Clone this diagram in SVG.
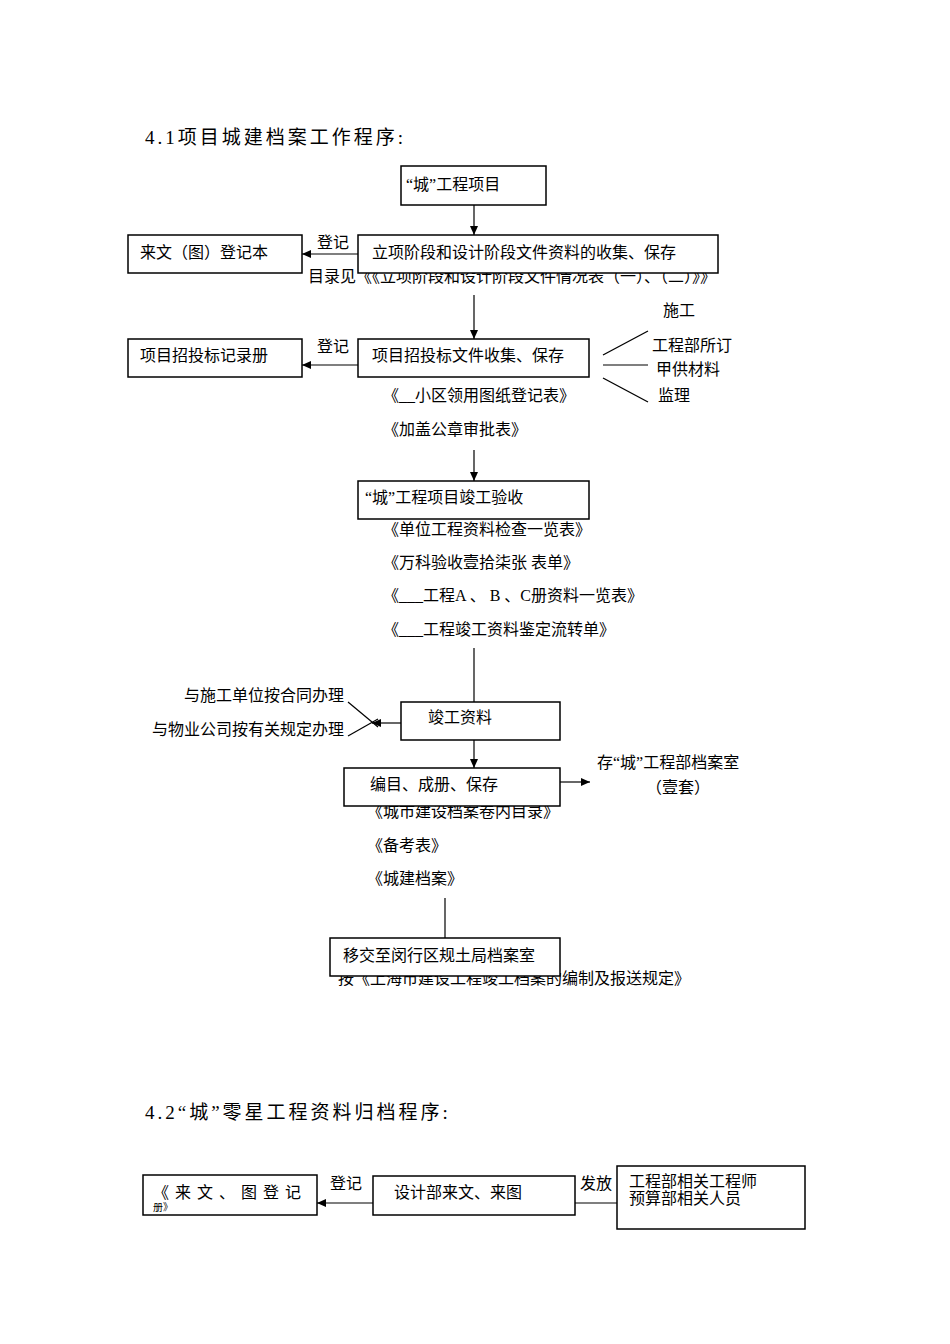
<svg xmlns="http://www.w3.org/2000/svg" width="950" height="1344" viewBox="0 0 950 1344">
<defs><marker id="ah" markerWidth="10" markerHeight="10" refX="9" refY="5" orient="auto" markerUnits="userSpaceOnUse"><path d="M0,1 L9,5 L0,9 Z" fill="#000"/></marker></defs>
<style>
text{font-family:"Liberation Serif","Noto Sans CJK SC",serif;font-size:16px;fill:#000}
.t{font-size:19px;letter-spacing:3px}
.b{fill:#fff;stroke:#000;stroke-width:1.5}
.c line{stroke:#000;stroke-width:1.2}
.a{marker-end:url(#ah)}
</style>
<rect width="950" height="1344" fill="#fff"/>
<text class="t" x="145" y="144">4.1项目城建档案工作程序:</text>
<text class="t" x="145" y="1119">4.2“城”零星工程资料归档程序:</text>
<text x="308" y="282">目录见《《立项阶段和设计阶段文件情况表（一）、（二）》》</text>
<text x="367" y="817">《城市建设档案卷内目录》</text>
<text x="338" y="984">按《上海市建设工程竣工档案的编制及报送规定》</text>
<g id="n1"><rect class="b" x="401" y="166" width="145" height="39"/><text x="406" y="190">“城”工程项目</text></g>
<g id="n2"><rect class="b" x="128" y="235" width="174" height="38"/><text x="140" y="258">来文（图）登记本</text></g>
<g id="n3"><rect class="b" x="358" y="235" width="360" height="38"/><text x="372" y="258">立项阶段和设计阶段文件资料的收集、保存</text></g>
<g id="n4"><rect class="b" x="128" y="339" width="174" height="38"/><text x="140" y="361">项目招投标记录册</text></g>
<g id="n5"><rect class="b" x="358" y="339" width="231" height="38"/><text x="372" y="361">项目招投标文件收集、保存</text></g>
<g id="n6"><rect class="b" x="358" y="481" width="231" height="38"/><text x="365" y="503">“城”工程项目竣工验收</text></g>
<g id="n7"><rect class="b" x="401" y="702" width="159" height="38"/><text x="428" y="723">竣工资料</text></g>
<g id="n8"><rect class="b" x="344" y="768" width="216" height="38"/><text x="370" y="790">编目、成册、保存</text></g>
<g id="n9"><rect class="b" x="330" y="938" width="230" height="38"/><text x="343" y="961">移交至闵行区规土局档案室</text></g>
<g id="n10"><rect class="b" x="143" y="1175" width="174" height="40"/><text x="153" y="1198" style="letter-spacing:6px">《来文、图登记</text><text x="153" y="1211" style="font-size:10px">册》</text></g>
<g id="n11"><rect class="b" x="373" y="1176" width="202" height="39"/><text x="394" y="1198">设计部来文、来图</text></g>
<g id="n12"><rect class="b" x="617" y="1166" width="188" height="63"/><text x="629" y="1187">工程部相关工程师</text><text x="629" y="1204">预算部相关人员</text></g>
<g id="labels">
<text x="317" y="248">登记</text>
<text x="317" y="352">登记</text>
<text x="663" y="316">施工</text>
<text x="652" y="351">工程部所订</text>
<text x="656" y="375">甲供材料</text>
<text x="658" y="401">监理</text>
<text x="383" y="401">《__小区领用图纸登记表》</text>
<text x="383" y="435">《加盖公章审批表》</text>
<text x="383" y="535">《单位工程资料检查一览表》</text>
<text x="383" y="568">《万科验收壹拾柒张  表单》</text>
<text x="383" y="601">《___工程A 、 B 、C册资料一览表》</text>
<text x="383" y="635">《___工程竣工资料鉴定流转单》</text>
<text x="344" y="701" text-anchor="end">与施工单位按合同办理</text>
<text x="344" y="735" text-anchor="end">与物业公司按有关规定办理</text>
<text x="597" y="768">存“城”工程部档案室</text>
<text x="646" y="793">（壹套）</text>
<text x="367" y="851">《备考表》</text>
<text x="367" y="884">《城建档案》</text>
<text x="330" y="1189">登记</text>
<text x="580" y="1189">发放</text>
</g>
<g class="c" id="connectors">
<line class="a" x1="474" y1="205" x2="474" y2="235"/>
<line class="a" x1="358" y1="254" x2="302" y2="254"/>
<line class="a" x1="474" y1="295" x2="474" y2="339"/>
<line class="a" x1="358" y1="365" x2="302" y2="365"/>
<line x1="603" y1="355" x2="648" y2="331"/>
<line x1="603" y1="365" x2="648" y2="365"/>
<line x1="603" y1="378" x2="648" y2="402"/>
<line class="a" x1="474" y1="450" x2="474" y2="481"/>
<line x1="474" y1="648" x2="474" y2="702"/>
<line class="a" x1="401" y1="723" x2="372" y2="723"/>
<line x1="348" y1="702" x2="378" y2="727"/>
<line x1="348" y1="736" x2="378" y2="719"/>
<line class="a" x1="474" y1="740" x2="474" y2="768"/>
<line class="a" x1="560" y1="782" x2="590" y2="782"/>
<line x1="445" y1="898" x2="445" y2="938"/>
<line class="a" x1="373" y1="1203" x2="317" y2="1203"/>
<line x1="575" y1="1203" x2="617" y2="1203"/>
</g>
</svg>
